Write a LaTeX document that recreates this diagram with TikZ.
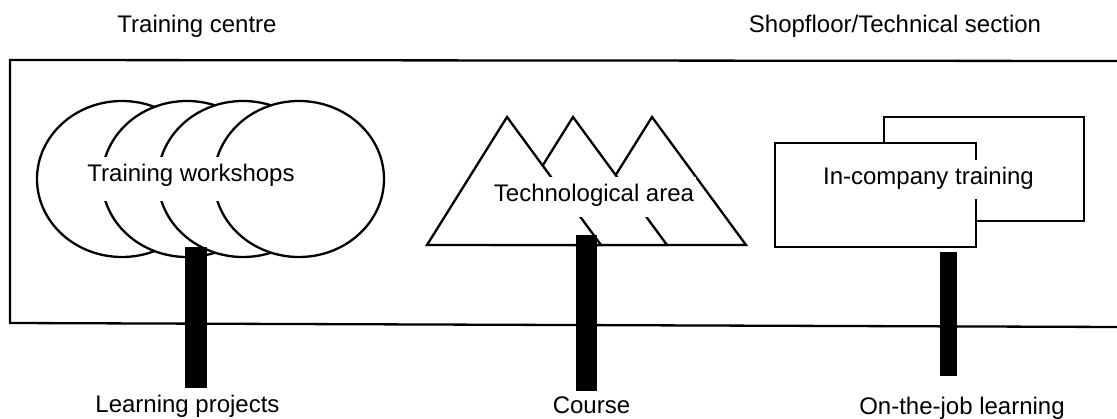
\documentclass[tikz,border=0pt]{standalone}
\usepackage{fontspec}
\setmainfont{Liberation Sans}
\usetikzlibrary{shapes.geometric}
\begin{document}
\begin{tikzpicture}[x=1pt,y=-1pt,
  every node/.style={font=\fontsize{24}{28}\selectfont},
  outline/.style={draw=black,line width=2.3pt,fill=white},
  wsh/.style={outline,ellipse,inner sep=0pt,minimum width=170pt,minimum height=156pt},
  inlabel/.style={fill=white,inner xsep=2pt,inner ysep=0pt,text height=25pt,anchor=base},
  caption/.style={anchor=base,inner sep=0pt},
  post/.style={fill=black,inner sep=0pt}]
\useasboundingbox (0,0) rectangle (1117,419);
% frame (open on the right)
\coordinate (fTR) at (1117,61);
\coordinate (fTL) at (10,60);
\coordinate (fBL) at (10,323);
\coordinate (fBR) at (1117,327);
\draw[line width=2.3pt] (fTR) -- (fTL) -- (fBL) -- (fBR);
% training workshops (overlapping circles)
\node[wsh] (c1) at (122,179) {};
\node[wsh] (c2) at (187,179) {};
\node[wsh] (c3) at (243,179) {};
\node[wsh] (c4) at (299,179) {};
% technological area (mountains)
\draw[outline] (572,245) -- (652,117) -- (746,245) -- cycle;
\draw[outline] (493,245) -- (573,117) -- (667,245) -- cycle;
\draw[outline] (427,245) -- (507,117) -- (601,245) -- cycle;
% in-company training (two sheets)
\node[outline,inner sep=0pt,minimum width=200pt,minimum height=104pt] (r2) at (984,169) {};
\node[outline,inner sep=0pt,minimum width=201pt,minimum height=104pt] (r1) at (875.5,195) {};
% labels inside shapes
\node[inlabel,text depth=19pt] (tw) at (191,182) {Training workshops};
\node[inlabel,text depth=15pt] (ta) at (594,202) {Technological area};
\node[inlabel,text depth=14pt] (ic) at (928.5,185) {In-company training};
% posts
\node[post,minimum width=22pt,minimum height=141pt] (b1) at (196,317.5) {};
\node[post,minimum width=21pt,minimum height=156pt] (b2) at (586.5,313) {};
\node[post,minimum width=17pt,minimum height=124pt] (b3) at (948.5,314) {};
% captions
\node[caption] (tc) at (197,33) {Training centre};
\node[caption] (sf) at (895,33) {Shopfloor/Technical section};
\node[caption] (lp) at (187.5,413) {Learning projects};
\node[caption] (co) at (591.5,414) {Course};
\node[caption] (oj) at (962,415) {On-the-job learning};
\end{tikzpicture}
\end{document}
